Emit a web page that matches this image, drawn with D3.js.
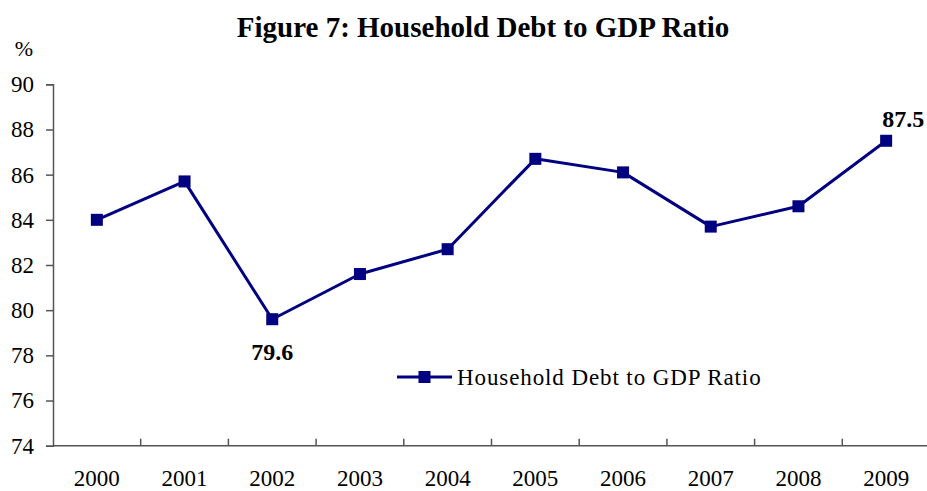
<!DOCTYPE html>
<html>
<head>
<meta charset="utf-8">
<script src="https://cdn.jsdelivr.net/npm/d3@7"></script>
<style>
  html, body { margin: 0; padding: 0; background: #fff; }
  svg { display: block; font-family: "Liberation Serif", "Times New Roman", serif; }
</style>
</head>
<body>
<svg id="chart" width="927" height="491"></svg>
<script>
// Household debt as a share of GDP, by year (%)
const years = ["2000", "2001", "2002", "2003", "2004", "2005", "2006", "2007", "2008", "2009"];
const debtRatio = [84.0, 85.7, 79.6, 81.6, 82.7, 86.7, 86.1, 83.7, 84.6, 87.5];
const yTicks = [74, 76, 78, 80, 82, 84, 86, 88, 90];
const labelledYears = ["2002", "2009"];

const svg = d3.select("#chart");
const margin = { left: 53, top: 84.3, bottom: 445.7, right: 930 };
const navy = "#000080";
const axisGrey = "#555";

const x = d3.scaleBand().domain(years).range([margin.left, margin.right]);
const y = d3.scaleLinear().domain([74, 90]).range([margin.bottom, margin.top]);

// Title and unit
svg.append("text")
  .attr("x", 483).attr("y", 37)
  .attr("text-anchor", "middle")
  .attr("font-size", 29).attr("font-weight", "bold")
  .text("Figure 7: Household Debt to GDP Ratio");

svg.append("text")
  .attr("x", 24).attr("y", 56)
  .attr("text-anchor", "middle")
  .attr("font-size", 22)
  .text("%");

// Y axis
const yAxis = svg.append("g")
  .attr("transform", `translate(${margin.left},0)`)
  .call(d3.axisLeft(y).tickValues(yTicks).tickSize(7).tickPadding(12).tickFormat(d3.format("d")));
yAxis.select(".domain").attr("stroke", axisGrey).attr("stroke-width", 1.5);
yAxis.selectAll(".tick line").attr("stroke", axisGrey).attr("stroke-width", 1.5);
yAxis.selectAll(".tick text")
  .attr("font-family", "Liberation Serif, serif")
  .attr("font-size", 23).attr("fill", "#000");

// X axis: ticks sit on the category boundaries, pointing up into the plot
const xAxisG = svg.append("g").attr("transform", `translate(0,${margin.bottom})`);
xAxisG.append("line")
  .attr("x1", margin.left).attr("x2", margin.right)
  .attr("stroke", axisGrey).attr("stroke-width", 1.5);
const boundaries = years.map(d => x(d)).concat([x(years[years.length - 1]) + x.bandwidth()]);
xAxisG.selectAll("line.tick")
  .data(boundaries.slice(1))
  .join("line")
  .attr("class", "tick")
  .attr("x1", d => d).attr("x2", d => d)
  .attr("y1", 0).attr("y2", -7)
  .attr("stroke", axisGrey).attr("stroke-width", 1.5);
xAxisG.selectAll("text")
  .data(years)
  .join("text")
  .attr("x", d => x(d) + x.bandwidth() / 2)
  .attr("y", 40)
  .attr("text-anchor", "middle")
  .attr("font-size", 23)
  .text(d => d);

// Series line and markers
const pts = years.map((yr, i) => ({ year: yr, value: debtRatio[i] }));
const cx = d => x(d.year) + x.bandwidth() / 2;

svg.append("path")
  .datum(pts)
  .attr("fill", "none")
  .attr("stroke", navy)
  .attr("stroke-width", 3)
  .attr("stroke-linejoin", "round")
  .attr("d", d3.line().x(cx).y(d => y(d.value)));

const markerSize = 12;
svg.selectAll("rect.marker")
  .data(pts)
  .join("rect")
  .attr("class", "marker")
  .attr("x", d => cx(d) - markerSize / 2)
  .attr("y", d => y(d.value) - markerSize / 2)
  .attr("width", markerSize).attr("height", markerSize)
  .attr("fill", navy);

// Value labels for the low and the latest point
svg.selectAll("text.value")
  .data(pts.filter(d => labelledYears.includes(d.year)))
  .join("text")
  .attr("class", "value")
  .attr("x", d => d.year === "2002" ? cx(d) : cx(d) + 17)
  .attr("y", d => d.year === "2002" ? y(d.value) + 41 : y(d.value) - 14)
  .attr("text-anchor", "middle")
  .attr("font-size", 24).attr("font-weight", "bold")
  .text(d => d.value.toFixed(1));

// Legend
const legend = svg.append("g").attr("transform", "translate(397,377)");
legend.append("line")
  .attr("x1", 0).attr("x2", 55)
  .attr("stroke", navy).attr("stroke-width", 3);
legend.append("rect")
  .attr("x", 27.5 - markerSize / 2).attr("y", -markerSize / 2)
  .attr("width", markerSize).attr("height", markerSize)
  .attr("fill", navy);
legend.append("text")
  .attr("x", 60).attr("y", 8)
  .attr("font-size", 23)
  .attr("letter-spacing", 0.9)
  .text("Household Debt to GDP Ratio");
</script>
</body>
</html>
